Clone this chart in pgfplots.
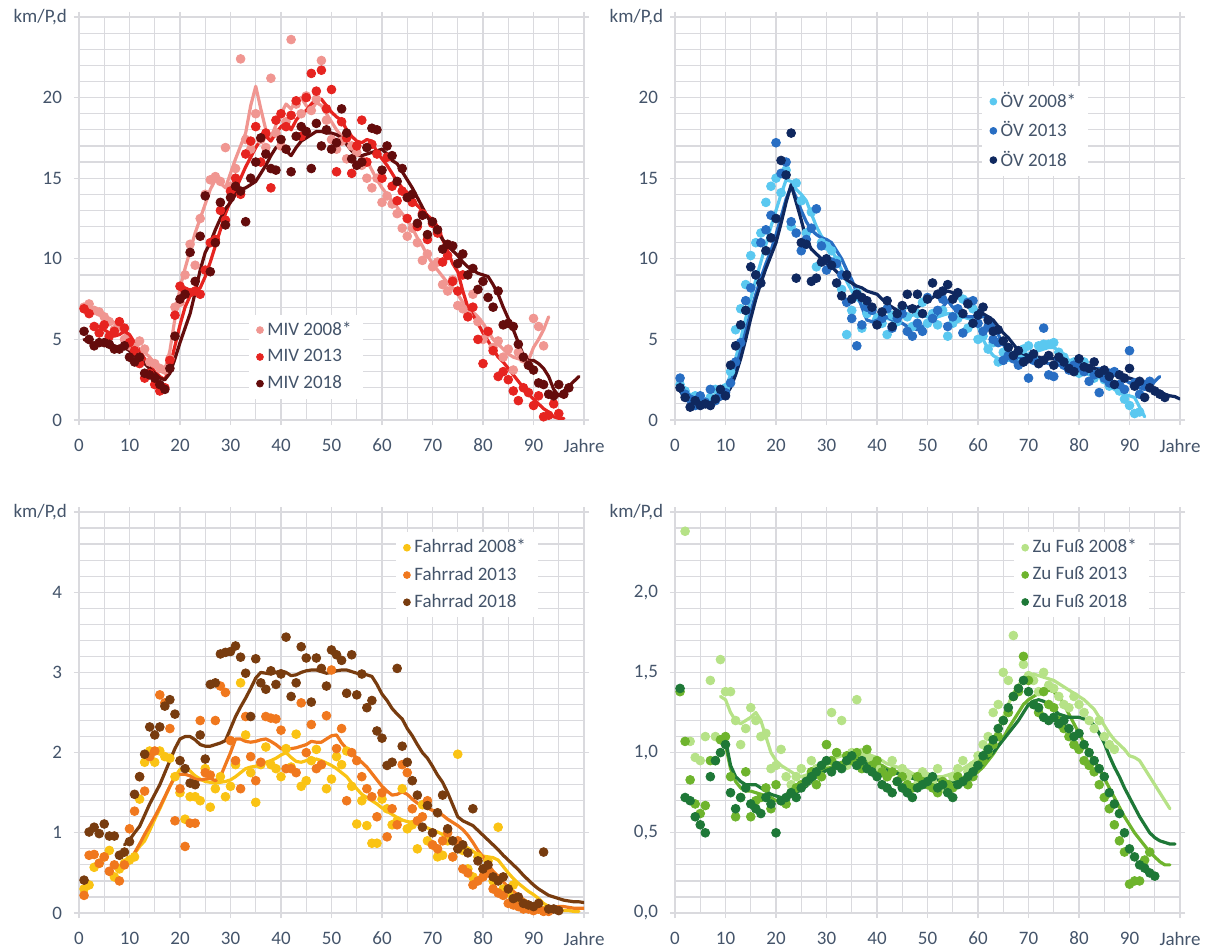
\documentclass[border=0pt]{standalone}
\usepackage{fontspec}
\setmainfont{Carlito}
\usepackage{pgfplots}
\pgfplotsset{compat=1.18}
\definecolor{txt}{RGB}{68,84,106}
\definecolor{gridc}{RGB}{218,218,222}
\definecolor{mA}{RGB}{240,150,145}
\definecolor{mB}{RGB}{230,36,32}
\definecolor{mC}{RGB}{100,12,12}
\definecolor{oA}{RGB}{90,200,240}
\definecolor{oB}{RGB}{40,110,195}
\definecolor{oC}{RGB}{15,40,95}
\definecolor{fA}{RGB}{250,195,20}
\definecolor{fB}{RGB}{240,120,30}
\definecolor{fC}{RGB}{120,60,15}
\definecolor{zA}{RGB}{182,226,135}
\definecolor{zB}{RGB}{110,180,45}
\definecolor{zC}{RGB}{30,120,55}
\pgfplotsset{
  pts/.style={only marks, mark=*, mark size=2.2pt},
  ln/.style={no marks, line width=1.6pt, line join=round, line cap=round, forget plot},
  panel/.style={
    scale only axis, anchor=south west, width=252.5pt, height=201.5pt,
    xmin=0, xmax=100, xtick={0,10,...,100},
    xticklabels={0,10,20,30,40,50,60,70,80,90,Jahre},
    minor x tick num=1,
    grid=both,
    major grid style={draw=gridc, line width=0.6pt},
    minor grid style={draw=gridc, line width=0.6pt},
    axis line style={draw=gridc, line width=0.6pt},
    tick align=outside, major tick length=2.5pt, minor tick length=0pt,
    tick style={draw=gridc, line width=0.6pt},
    tick label style={font=\fontsize{9.5}{10}\selectfont, text=txt},
    xticklabel style={inner sep=1pt, text depth=0pt, yshift=-5.8pt},
    yticklabel style={xshift=-2.5pt},
    legend cell align=left,
    legend style={draw=none, fill=white, font=\fontsize{9.5}{10}\selectfont, text=txt,
      row sep=1.5pt, inner xsep=4pt, inner ysep=1.5pt, anchor=north west},
    legend image code/.code={\draw[mark size=1.7pt,##1] plot coordinates {(0.1cm,0cm)};},
  }
}
\begin{document}
\begin{tikzpicture}
\useasboundingbox (0,0) rectangle (604pt,474.5pt);
% ---------------- MIV ----------------
\begin{axis}[panel, at={(39.5pt,264.5pt)}, ymin=0, ymax=25, ytick={0,5,...,25},
  yticklabels={0,5,10,15,20,{km/P,d\kern-2.5pt}}, minor y tick num=4,
  legend style={at={(0.335,0.262)}}]
\addplot[pts, color=mA] coordinates {(1,7.0)(2,7.2)(3,6.8)(4,6.7)(5,6.4)(6,6.1)(7,5.6)(8,5.8)(9,5.0)(10,4.6)(11,4.5)(12,4.9)(13,4.4)(14,3.6)(15,3.5)(16,3.2)(17,3.1)(18,3.8)(19,7.0)(20,7.3)(21,9.0)(22,10.9)(23,9.6)(24,12.5)(25,14.0)(26,14.9)(27,15.1)(28,14.8)(29,16.9)(30,14.5)(31,15.6)(32,22.4)(33,17.4)(34,16.8)(35,19.0)(36,17.4)(37,16.9)(38,21.2)(39,17.8)(40,17.0)(41,18.5)(42,23.6)(43,19.6)(44,19.0)(45,20.1)(46,19.2)(47,19.9)(48,22.3)(49,18.6)(50,17.4)(51,16.8)(52,17.3)(53,16.2)(54,17.0)(55,16.6)(56,15.8)(57,15.0)(58,14.4)(59,15.0)(60,13.5)(61,13.9)(62,13.4)(63,12.8)(64,11.9)(65,11.4)(66,11.9)(67,11.0)(68,9.9)(69,10.3)(70,9.5)(71,9.8)(72,8.4)(73,8.0)(74,8.7)(75,7.1)(76,6.9)(77,6.5)(78,7.8)(79,6.1)(80,5.0)(81,5.4)(82,4.5)(83,4.9)(84,3.9)(85,4.4)(86,3.1)(87,4.2)(88,3.8)(89,3.4)(90,6.3)(91,5.8)(92,4.6)};
\addlegendentry{MIV 2008*}
\addplot[pts, color=mB] coordinates {(1,6.9)(2,6.6)(3,5.8)(4,5.4)(5,5.9)(6,5.2)(7,5.5)(8,6.1)(9,5.7)(10,4.8)(11,4.3)(12,3.5)(13,2.6)(14,2.9)(15,2.2)(16,1.8)(17,2.0)(18,3.7)(19,6.5)(20,8.3)(21,8.0)(22,7.9)(23,8.0)(24,7.8)(25,9.3)(26,11.0)(27,11.2)(28,13.0)(29,12.4)(30,14.2)(31,15.0)(32,14.0)(33,16.5)(34,17.3)(35,18.2)(36,16.0)(37,17.8)(38,14.4)(39,18.6)(40,19.0)(41,18.2)(42,18.9)(43,19.8)(44,17.6)(45,20.0)(46,21.5)(47,20.4)(48,21.7)(49,19.3)(50,20.5)(51,15.4)(52,18.5)(53,17.5)(54,15.3)(55,17.0)(56,18.6)(57,16.0)(58,17.1)(59,16.5)(60,15.0)(61,16.3)(62,14.5)(63,13.6)(64,14.2)(65,12.5)(66,13.5)(67,12.0)(68,12.8)(69,11.2)(70,12.2)(71,11.6)(72,9.8)(73,10.2)(74,8.6)(75,8.0)(76,9.0)(77,6.4)(78,7.0)(79,5.0)(80,3.5)(81,5.5)(82,4.3)(83,2.7)(84,3.0)(85,2.5)(86,1.8)(87,1.2)(88,2.0)(89,1.7)(90,0.9)(91,1.5)(92,0.2)(93,0.3)(94,1.0)(95,0.4)};
\addlegendentry{MIV 2013}
\addplot[pts, color=mC] coordinates {(1,5.5)(2,5.0)(3,4.6)(4,4.8)(5,4.8)(6,4.7)(7,4.4)(8,4.4)(9,4.6)(10,3.9)(11,3.6)(12,3.9)(13,2.9)(14,2.8)(15,2.6)(16,2.2)(17,1.9)(18,3.2)(19,5.2)(20,7.5)(21,7.8)(22,10.4)(23,8.6)(24,11.4)(25,13.9)(26,9.2)(27,11.0)(28,13.5)(29,12.1)(30,13.8)(31,14.5)(32,14.2)(33,12.3)(34,15.0)(35,16.0)(36,17.5)(37,16.5)(38,15.6)(39,15.5)(40,17.4)(41,16.8)(42,15.4)(43,17.6)(44,18.2)(45,17.9)(46,15.6)(47,18.4)(48,17.0)(49,18.0)(50,16.8)(51,17.2)(52,19.3)(53,17.8)(54,16.2)(55,15.8)(56,16.0)(57,16.9)(58,18.1)(59,18.0)(60,15.5)(61,17.0)(62,16.4)(63,14.8)(64,15.6)(65,13.8)(66,14.0)(67,12.2)(68,12.7)(69,11.5)(70,12.3)(71,11.8)(72,10.6)(73,10.9)(74,10.8)(75,9.7)(76,10.3)(77,9.0)(78,9.4)(79,8.1)(80,8.6)(81,7.6)(82,7.0)(83,8.0)(84,5.9)(85,6.0)(86,5.8)(87,4.7)(88,3.9)(89,3.4)(90,3.1)(91,2.3)(92,2.2)(93,1.6)(94,1.5)(95,2.2)(96,1.6)(97,2.0)};
\addlegendentry{MIV 2018}
\addplot[ln, color=mA] coordinates {(1,6.9)(2,7.0)(3,6.8)(4,6.6)(5,6.5)(6,6.3)(7,6.0)(8,5.7)(9,5.4)(10,5.0)(11,4.7)(12,4.4)(13,4.2)(14,3.9)(15,3.5)(16,3.2)(17,3.1)(18,4.3)(19,6.3)(20,8.2)(21,9.4)(22,10.5)(23,11.6)(24,12.5)(25,13.4)(26,14.3)(27,14.9)(28,14.7)(29,14.4)(30,15.3)(31,16.2)(32,17.0)(33,17.8)(34,19.5)(35,20.7)(36,19.3)(37,18.0)(38,17.5)(39,18.3)(40,19.0)(41,19.6)(42,19.3)(43,19.8)(44,20.0)(45,19.5)(46,19.2)(47,19.7)(48,19.5)(49,19.0)(50,18.5)(51,18.0)(52,17.6)(53,17.1)(54,16.9)(55,16.6)(56,16.3)(57,16.1)(58,15.5)(59,14.9)(60,14.4)(61,14.0)(62,13.6)(63,13.2)(64,12.8)(65,12.4)(66,11.9)(67,11.3)(68,10.8)(69,10.2)(70,9.7)(71,9.3)(72,8.9)(73,8.5)(74,8.2)(75,7.8)(76,7.3)(77,6.9)(78,6.7)(79,6.4)(80,6.0)(81,5.5)(82,5.0)(83,4.7)(84,4.4)(85,4.1)(86,3.9)(87,3.8)(88,3.7)(89,3.7)(90,4.5)(91,5.0)(92,5.6)(93,6.4)};
\addplot[ln, color=mB] coordinates {(3,5.9)(4,5.8)(5,5.6)(6,5.4)(7,5.2)(8,5.3)(9,5.5)(10,5.3)(11,4.8)(12,4.3)(13,3.8)(14,3.4)(15,3.0)(16,2.7)(17,2.5)(18,3.3)(19,4.6)(20,5.9)(21,7.0)(22,7.7)(23,8.0)(24,8.2)(25,8.9)(26,9.8)(27,10.8)(28,11.8)(29,12.8)(30,13.6)(31,14.3)(32,15.0)(33,15.7)(34,16.3)(35,16.9)(36,17.4)(37,17.6)(38,17.3)(39,17.8)(40,18.2)(41,18.4)(42,18.0)(43,18.6)(44,19.0)(45,19.2)(46,19.6)(47,19.9)(48,19.9)(49,19.5)(50,19.1)(51,18.8)(52,18.6)(53,18.0)(54,17.6)(55,17.3)(56,17.2)(57,17.4)(58,17.3)(59,16.6)(60,16.2)(61,15.8)(62,15.3)(63,14.8)(64,14.4)(65,14.1)(66,13.7)(67,13.3)(68,13.0)(69,12.7)(70,12.4)(71,12.0)(72,11.2)(73,10.5)(74,9.7)(75,9.2)(76,8.0)(77,7.0)(78,6.5)(79,6.0)(80,5.4)(81,4.9)(82,4.4)(83,3.9)(84,3.6)(85,3.2)(86,2.8)(87,2.4)(88,2.0)(89,1.6)(90,1.3)(91,1.0)(92,0.7)(93,0.5)(94,0.2)(95,0.1)(96,0.1)};
\addplot[ln, color=mC] coordinates {(1,5.0)(2,4.8)(3,4.7)(4,4.8)(5,4.8)(6,4.7)(7,4.6)(8,4.5)(9,4.5)(10,4.3)(11,4.0)(12,3.8)(13,3.5)(14,3.2)(15,2.9)(16,2.6)(17,2.5)(18,2.9)(19,3.8)(20,4.8)(21,5.7)(22,6.6)(23,7.9)(24,9.3)(25,10.4)(26,11.0)(27,11.8)(28,12.5)(29,13.1)(30,13.5)(31,14.0)(32,14.3)(33,14.4)(34,14.6)(35,14.8)(36,15.3)(37,15.8)(38,16.4)(39,16.9)(40,17.0)(41,16.7)(42,16.4)(43,16.9)(44,17.3)(45,17.5)(46,17.7)(47,17.9)(48,17.9)(49,17.8)(50,17.8)(51,17.7)(52,17.5)(53,17.1)(54,16.7)(55,16.4)(56,16.4)(57,16.5)(58,16.6)(59,16.7)(60,16.8)(61,16.5)(62,16.1)(63,15.9)(64,15.4)(65,14.9)(66,14.4)(67,13.8)(68,13.2)(69,12.6)(70,12.1)(71,11.7)(72,11.2)(73,10.8)(74,10.5)(75,10.2)(76,9.8)(77,9.5)(78,9.3)(79,9.1)(80,9.0)(81,8.9)(82,8.4)(83,7.8)(84,7.0)(85,6.3)(86,5.6)(87,4.8)(88,4.0)(89,3.7)(90,3.7)(91,3.5)(92,3.2)(93,2.7)(94,1.9)(95,1.5)(96,1.8)(97,2.1)(98,2.4)(99,2.7)};
\end{axis}
% ---------------- OEV ----------------
\begin{axis}[panel, at={(337.5pt,264.5pt)}, ymin=0, ymax=25, ytick={0,5,...,25},
  yticklabels={0,5,10,15,20,{km/P,d\kern-2.5pt}}, minor y tick num=4,
  legend style={at={(0.607,0.831)}}]
\addplot[pts, color=oA] coordinates {(1,2.2)(2,1.8)(3,1.4)(4,1.5)(5,1.2)(6,1.1)(7,1.4)(8,1.9)(9,1.6)(10,2.0)(11,3.0)(12,5.6)(13,6.9)(14,8.4)(15,10.2)(16,11.0)(17,11.6)(18,13.5)(19,14.5)(20,15.0)(21,14.1)(22,15.5)(23,12.0)(24,14.7)(25,13.6)(26,11.6)(27,12.9)(28,9.5)(29,11.0)(30,10.8)(31,10.5)(32,9.9)(33,8.1)(34,5.3)(35,6.8)(36,7.9)(37,5.7)(38,6.6)(39,6.9)(40,6.3)(41,6.0)(42,5.3)(43,6.5)(44,6.1)(45,7.0)(46,6.4)(47,5.8)(48,6.6)(49,7.3)(50,6.0)(51,6.6)(52,5.9)(53,6.8)(54,5.2)(55,6.0)(56,6.3)(57,7.5)(58,5.7)(59,6.9)(60,5.0)(61,5.2)(62,4.4)(63,4.8)(64,3.6)(65,4.2)(66,3.9)(67,4.0)(68,3.5)(69,4.4)(70,4.6)(71,3.8)(72,4.6)(73,4.7)(74,4.7)(75,4.8)(76,4.2)(77,3.9)(78,3.5)(79,3.6)(80,2.9)(81,3.6)(82,3.0)(83,2.6)(84,2.9)(85,2.5)(86,2.1)(87,2.2)(88,1.8)(89,1.3)(90,0.9)(91,0.4)(92,0.5)};
\addlegendentry{ÖV 2008*}
\addplot[pts, color=oB] coordinates {(1,2.6)(2,1.6)(3,1.3)(4,0.9)(5,1.5)(6,1.1)(7,1.9)(8,1.2)(9,1.5)(10,1.7)(11,2.3)(12,3.6)(13,4.8)(14,7.4)(15,8.2)(16,9.0)(17,11.0)(18,11.8)(19,12.7)(20,17.2)(21,15.3)(22,16.0)(23,12.3)(24,11.6)(25,10.5)(26,11.2)(27,11.9)(28,13.1)(29,10.8)(30,9.3)(31,9.8)(32,9.7)(33,9.0)(34,7.3)(35,6.3)(36,4.6)(37,5.9)(38,7.0)(39,6.8)(40,6.0)(41,6.3)(42,6.9)(43,5.7)(44,6.3)(45,6.6)(46,5.5)(47,5.2)(48,6.0)(49,5.5)(50,7.6)(51,6.3)(52,6.8)(53,7.5)(54,5.8)(55,6.4)(56,6.9)(57,5.4)(58,7.3)(59,7.4)(60,6.0)(61,5.5)(62,5.8)(63,5.0)(64,4.8)(65,3.7)(66,4.0)(67,3.8)(68,3.4)(69,3.6)(70,2.6)(71,3.7)(72,3.5)(73,5.7)(74,2.8)(75,2.7)(76,3.8)(77,3.4)(78,3.1)(79,3.4)(80,3.3)(81,3.0)(82,2.4)(83,2.8)(84,1.7)(85,2.6)(86,2.3)(87,3.0)(88,2.2)(89,1.9)(90,4.3)(91,2.3)(92,1.6)(93,2.2)(94,2.4)};
\addlegendentry{ÖV 2013}
\addplot[pts, color=oC] coordinates {(1,2.0)(2,1.4)(3,0.8)(4,1.2)(5,0.9)(6,1.0)(7,0.9)(8,1.3)(9,1.9)(10,1.5)(11,3.4)(12,4.6)(13,5.9)(14,6.8)(15,9.5)(16,9.0)(17,8.5)(18,10.5)(19,11.3)(20,12.5)(21,16.1)(22,15.2)(23,17.8)(24,8.8)(25,11.0)(26,10.9)(27,8.6)(28,8.8)(29,9.8)(30,10.0)(31,9.6)(32,8.5)(33,7.7)(34,9.0)(35,7.5)(36,7.8)(37,7.6)(38,7.4)(39,7.0)(40,5.9)(41,6.7)(42,7.4)(43,5.8)(44,6.6)(45,7.1)(46,7.8)(47,6.9)(48,7.8)(49,6.6)(50,7.5)(51,8.5)(52,7.8)(53,8.0)(54,8.4)(55,7.5)(56,7.9)(57,6.6)(58,7.2)(59,6.0)(60,6.5)(61,7.0)(62,6.2)(63,5.5)(64,5.6)(65,4.9)(66,4.5)(67,4.0)(68,4.3)(69,3.6)(70,3.8)(71,4.1)(72,3.5)(73,3.7)(74,4.0)(75,3.4)(76,3.9)(77,3.6)(78,3.2)(79,3.0)(80,3.8)(81,3.3)(82,3.2)(83,3.6)(84,2.9)(85,3.1)(86,2.7)(87,2.2)(88,2.8)(89,2.6)(90,3.2)(91,2.1)(92,2.4)(93,1.4)(94,2.0)(95,1.8)(96,1.6)(97,1.4)};
\addlegendentry{ÖV 2018}
\addplot[ln, color=oA] coordinates {(1,2.0)(2,1.6)(3,1.4)(4,1.3)(5,1.2)(6,1.2)(7,1.3)(8,1.4)(9,1.6)(10,2.0)(11,2.8)(12,3.8)(13,5.0)(14,6.3)(15,7.5)(16,8.7)(17,9.8)(18,10.9)(19,12.0)(20,13.0)(21,14.0)(22,14.9)(23,14.8)(24,14.3)(25,14.0)(26,13.6)(27,12.8)(28,12.0)(29,11.4)(30,11.0)(31,10.5)(32,10.0)(33,9.3)(34,8.6)(35,8.0)(36,7.5)(37,7.2)(38,6.9)(39,6.7)(40,6.5)(41,6.4)(42,6.3)(43,6.2)(44,6.3)(45,6.4)(46,6.4)(47,6.5)(48,6.6)(49,6.5)(50,6.4)(51,6.3)(52,6.4)(53,6.5)(54,6.6)(55,6.6)(56,6.5)(57,6.4)(58,6.3)(59,6.2)(60,5.8)(61,5.0)(62,4.4)(63,4.0)(64,3.8)(65,3.7)(66,3.7)(67,3.8)(68,3.9)(69,4.0)(70,4.1)(71,4.2)(72,4.3)(73,4.4)(74,4.5)(75,4.5)(76,4.3)(77,4.0)(78,3.7)(79,3.5)(80,3.3)(81,3.2)(82,3.0)(83,2.9)(84,2.7)(85,2.4)(86,2.1)(87,1.9)(88,1.7)(89,1.6)(90,1.5)(91,1.4)(92,0.8)(93,0.2)};
\addplot[ln, color=oB] coordinates {(1,2.2)(2,1.8)(3,1.5)(4,1.3)(5,1.2)(6,1.1)(7,1.1)(8,1.2)(9,1.4)(10,1.7)(11,2.3)(12,3.2)(13,4.3)(14,5.5)(15,6.7)(16,7.8)(17,8.8)(18,9.7)(19,10.5)(20,11.5)(21,12.6)(22,13.7)(23,14.5)(24,13.8)(25,13.0)(26,12.3)(27,11.8)(28,11.5)(29,11.3)(30,11.2)(31,11.0)(32,10.5)(33,10.0)(34,9.3)(35,8.7)(36,7.9)(37,7.0)(38,6.2)(39,6.1)(40,6.3)(41,6.5)(42,6.4)(43,6.2)(44,6.1)(45,6.0)(46,5.8)(47,5.7)(48,5.6)(49,5.8)(50,6.0)(51,6.2)(52,6.6)(53,7.0)(54,7.4)(55,7.0)(56,6.7)(57,6.5)(58,6.4)(59,6.4)(60,6.4)(61,6.4)(62,6.4)(63,5.9)(64,5.3)(65,4.7)(66,4.2)(67,3.9)(68,3.8)(69,3.8)(70,3.7)(71,3.7)(72,3.6)(73,3.6)(74,3.5)(75,3.5)(76,3.4)(77,3.3)(78,3.3)(79,3.4)(80,3.5)(81,3.4)(82,3.3)(83,3.2)(84,3.2)(85,3.1)(86,3.1)(87,2.9)(88,2.7)(89,2.5)(90,2.3)(91,2.2)(92,2.0)(93,1.9)(94,2.0)(95,2.4)(96,2.7)};
\addplot[ln, color=oC] coordinates {(1,1.8)(2,1.4)(3,1.1)(4,1.0)(5,1.0)(6,1.0)(7,1.0)(8,1.1)(9,1.3)(10,1.5)(11,2.0)(12,2.8)(13,3.8)(14,5.0)(15,6.3)(16,7.5)(17,8.5)(18,9.4)(19,10.2)(20,11.0)(21,12.2)(22,13.5)(23,14.6)(24,13.5)(25,12.4)(26,11.2)(27,10.6)(28,10.3)(29,10.0)(30,9.7)(31,9.5)(32,9.2)(33,8.9)(34,8.7)(35,8.5)(36,8.3)(37,8.2)(38,8.0)(39,7.9)(40,7.8)(41,7.5)(42,7.2)(43,7.0)(44,6.8)(45,6.9)(46,7.0)(47,7.0)(48,7.0)(49,7.2)(50,7.4)(51,7.6)(52,7.8)(53,7.9)(54,8.0)(55,7.9)(56,7.6)(57,7.4)(58,7.2)(59,7.0)(60,6.8)(61,6.6)(62,6.4)(63,6.2)(64,5.8)(65,5.4)(66,5.1)(67,4.7)(68,4.3)(69,4.1)(70,4.0)(71,3.9)(72,3.9)(73,3.8)(74,3.8)(75,3.8)(76,3.7)(77,3.6)(78,3.5)(79,3.5)(80,3.5)(81,3.4)(82,3.3)(83,3.2)(84,3.1)(85,3.0)(86,2.9)(87,2.8)(88,2.7)(89,2.6)(90,2.6)(91,2.5)(92,2.3)(93,2.1)(94,1.9)(95,1.8)(96,1.8)(97,1.6)(98,1.5)(99,1.45)(100,1.3)};
\end{axis}
% ---------------- Fahrrad ----------------
\begin{axis}[panel, at={(39.5pt,18pt)}, height=200.5pt, ymin=0, ymax=5, ytick={0,1,...,5},
  yticklabels={0,1,2,3,4,{km/P,d\kern-2.5pt}}, minor y tick num=4,
  legend style={at={(0.626,0.95)}}]
\addplot[pts, color=fA] coordinates {(1,0.3)(2,0.35)(3,0.57)(4,0.62)(5,0.70)(6,0.78)(7,0.45)(8,0.55)(9,0.62)(10,0.66)(11,0.70)(12,1.42)(13,1.88)(14,2.02)(15,1.88)(16,2.02)(17,1.95)(18,1.93)(19,1.70)(20,1.50)(21,1.17)(22,1.45)(23,1.45)(24,1.40)(25,1.80)(26,1.32)(27,1.55)(28,1.70)(29,1.45)(30,1.58)(31,1.85)(32,2.87)(33,2.22)(34,1.75)(35,1.38)(36,1.85)(37,2.07)(38,1.85)(39,1.80)(40,1.70)(41,2.05)(42,1.82)(43,2.23)(44,1.58)(45,1.65)(46,1.90)(47,2.04)(48,1.85)(49,1.55)(50,1.67)(51,1.95)(52,1.85)(53,2.02)(54,1.58)(55,1.11)(56,1.40)(57,1.09)(58,0.87)(59,0.87)(60,1.42)(61,1.30)(62,1.10)(63,1.15)(64,1.55)(65,1.05)(66,1.10)(67,0.80)(68,1.35)(69,0.90)(70,0.85)(71,0.70)(72,0.72)(73,0.90)(74,0.70)(75,1.98)(76,0.78)(77,0.55)(78,0.45)(79,0.70)(80,0.55)(81,0.65)(82,0.40)(83,1.07)(84,0.30)(85,0.25)(86,0.35)(87,0.15)(88,0.12)(89,0.08)(90,0.05)(91,0.05)(92,0.03)};
\addlegendentry{Fahrrad 2008*}
\addplot[pts, color=fB] coordinates {(1,0.22)(2,0.72)(3,0.73)(4,0.62)(5,0.70)(6,0.52)(7,0.60)(8,0.40)(9,0.60)(10,1.05)(11,1.27)(12,1.70)(13,1.52)(14,1.95)(15,2.02)(16,2.72)(17,2.62)(18,2.30)(19,1.15)(20,1.55)(21,0.83)(22,1.12)(23,1.12)(24,2.40)(25,1.75)(26,1.72)(27,2.40)(28,2.83)(29,2.75)(30,2.15)(31,1.90)(32,1.55)(33,2.45)(34,1.95)(35,1.65)(36,1.88)(37,2.45)(38,2.43)(39,2.42)(40,2.28)(41,1.80)(42,1.80)(43,1.75)(44,2.62)(45,2.00)(46,2.35)(47,1.80)(48,1.85)(49,2.46)(50,3.03)(51,2.05)(52,2.30)(53,1.40)(54,2.00)(55,1.90)(56,1.70)(57,1.55)(58,1.45)(59,1.20)(60,1.50)(61,0.95)(62,1.30)(63,1.10)(64,1.85)(65,1.75)(66,1.30)(67,1.15)(68,1.20)(69,1.40)(70,0.85)(71,0.80)(72,0.90)(73,1.00)(74,0.70)(75,0.90)(76,0.55)(77,0.50)(78,0.35)(79,0.40)(80,0.45)(81,0.50)(82,0.30)(83,0.25)(84,0.22)(85,0.12)(86,0.10)(87,0.08)(88,0.05)(89,0.05)(90,0.03)(91,0.05)(92,0.02)(93,0.02)};
\addlegendentry{Fahrrad 2013}
\addplot[pts, color=fC] coordinates {(1,0.41)(2,1.01)(3,1.07)(4,0.99)(5,1.11)(6,0.96)(7,0.96)(8,0.72)(9,0.76)(10,0.89)(11,1.48)(12,1.70)(13,1.98)(14,2.32)(15,2.22)(16,2.32)(17,2.58)(18,2.66)(19,2.48)(20,1.90)(21,1.80)(22,1.62)(23,1.60)(24,2.22)(25,1.92)(26,2.85)(27,2.87)(28,3.23)(29,3.25)(30,3.26)(31,3.33)(32,3.19)(33,2.99)(34,2.45)(35,3.17)(36,2.87)(37,2.79)(38,3.02)(39,2.85)(40,2.98)(41,3.44)(42,2.70)(43,2.87)(44,3.32)(45,3.18)(46,2.63)(47,3.18)(48,3.05)(49,2.83)(50,3.28)(51,3.22)(52,3.15)(53,2.74)(54,3.22)(55,2.72)(56,2.98)(57,2.56)(58,2.65)(59,2.27)(60,2.18)(61,1.84)(62,1.88)(63,3.05)(64,2.08)(65,1.88)(66,1.65)(67,1.47)(68,1.07)(69,1.34)(70,1.00)(71,1.25)(72,1.47)(73,1.05)(74,0.90)(75,0.80)(76,0.85)(77,0.75)(78,1.30)(79,0.65)(80,0.55)(81,0.60)(82,0.45)(83,0.40)(84,0.45)(85,0.30)(86,0.18)(87,0.20)(88,0.12)(89,0.10)(90,0.08)(91,0.12)(92,0.76)(93,0.05)(94,0.05)(95,0.03)};
\addlegendentry{Fahrrad 2018}
\addplot[ln, color=fA] coordinates {(9,0.6)(10,0.66)(11,0.74)(12,0.83)(13,0.9)(14,1.03)(15,1.17)(16,1.3)(17,1.44)(18,1.58)(19,1.7)(20,1.79)(21,1.82)(22,1.77)(23,1.71)(24,1.67)(25,1.64)(26,1.63)(27,1.62)(28,1.63)(29,1.64)(30,1.66)(31,1.7)(32,1.75)(33,1.8)(34,1.82)(35,1.83)(36,1.85)(37,1.88)(38,1.9)(39,1.93)(40,1.97)(41,2.0)(42,1.94)(43,1.89)(44,1.88)(45,1.9)(46,1.91)(47,1.92)(48,1.9)(49,1.87)(50,1.84)(51,1.8)(52,1.75)(53,1.7)(54,1.62)(55,1.55)(56,1.48)(57,1.44)(58,1.4)(59,1.36)(60,1.31)(61,1.27)(62,1.23)(63,1.19)(64,1.16)(65,1.14)(66,1.13)(67,1.11)(68,1.09)(69,1.06)(70,1.03)(71,1.01)(72,0.98)(73,0.95)(74,0.92)(75,0.89)(76,0.85)(77,0.81)(78,0.77)(79,0.73)(80,0.71)(81,0.7)(82,0.69)(83,0.66)(84,0.58)(85,0.5)(86,0.43)(87,0.37)(88,0.32)(89,0.27)(90,0.23)(91,0.18)(92,0.12)(93,0.08)(94,0.06)(95,0.04)(96,0.03)(97,0.03)(98,0.02)(99,0.02)};
\addplot[ln, color=fB] coordinates {(9,0.62)(10,0.66)(11,0.75)(12,0.86)(13,0.98)(14,1.09)(15,1.2)(16,1.32)(17,1.45)(18,1.58)(19,1.7)(20,1.73)(21,1.73)(22,1.71)(23,1.67)(24,1.66)(25,1.67)(26,1.68)(27,1.65)(28,1.7)(29,1.85)(30,2.0)(31,2.17)(32,2.17)(33,2.14)(34,2.13)(35,2.14)(36,2.16)(37,2.17)(38,2.14)(39,2.1)(40,2.05)(41,2.04)(42,2.05)(43,2.06)(44,2.08)(45,2.1)(46,2.14)(47,2.13)(48,2.13)(49,2.17)(50,2.21)(51,2.22)(52,2.12)(53,2.05)(54,2.0)(55,1.93)(56,1.88)(57,1.82)(58,1.74)(59,1.66)(60,1.58)(61,1.52)(62,1.47)(63,1.48)(64,1.51)(65,1.48)(66,1.42)(67,1.37)(68,1.34)(69,1.31)(70,1.28)(71,1.26)(72,1.22)(73,1.17)(74,1.13)(75,1.09)(76,1.04)(77,0.97)(78,0.88)(79,0.78)(80,0.7)(81,0.61)(82,0.52)(83,0.46)(84,0.39)(85,0.32)(86,0.27)(87,0.22)(88,0.17)(89,0.13)(90,0.1)(91,0.08)(92,0.06)(93,0.06)(94,0.07)(95,0.08)(96,0.08)(97,0.07)(98,0.06)(99,0.06)(100,0.06)};
\addplot[ln, color=fC] coordinates {(9,0.85)(10,0.91)(11,1.0)(12,1.08)(13,1.22)(14,1.36)(15,1.48)(16,1.6)(17,1.75)(18,1.9)(19,2.05)(20,2.17)(21,2.2)(22,2.2)(23,2.16)(24,2.1)(25,2.08)(26,2.08)(27,2.1)(28,2.12)(29,2.15)(30,2.3)(31,2.45)(32,2.57)(33,2.68)(34,2.8)(35,2.93)(36,3.0)(37,2.99)(38,2.98)(39,3.0)(40,3.02)(41,3.0)(42,2.96)(43,2.97)(44,3.0)(45,3.02)(46,3.03)(47,3.03)(48,3.01)(49,2.99)(50,3.0)(51,3.02)(52,3.03)(53,3.03)(54,3.01)(55,2.99)(56,2.98)(57,2.97)(58,2.95)(59,2.85)(60,2.73)(61,2.65)(62,2.55)(63,2.48)(64,2.42)(65,2.3)(66,2.21)(67,2.1)(68,2.0)(69,1.93)(70,1.83)(71,1.72)(72,1.63)(73,1.5)(74,1.35)(75,1.2)(76,1.15)(77,1.12)(78,1.09)(79,1.03)(80,0.97)(81,0.91)(82,0.85)(83,0.79)(84,0.72)(85,0.66)(86,0.6)(87,0.54)(88,0.47)(89,0.41)(90,0.35)(91,0.3)(92,0.26)(93,0.22)(94,0.2)(95,0.18)(96,0.16)(97,0.15)(98,0.14)(99,0.14)(100,0.13)};
\end{axis}
% ---------------- Zu Fuss ----------------
\begin{axis}[panel, at={(337.5pt,18pt)}, height=200.5pt, ymin=0, ymax=2.5, ytick={0,0.5,...,2.5},
  yticklabels={{0,0},{0,5},{1,0},{1,5},{2,0},{km/P,d\kern-2.5pt}}, minor y tick num=4,
  legend style={at={(0.67,0.95)}}]
\addplot[pts, color=zA] coordinates {(2,2.38)(3,1.07)(4,0.97)(5,0.95)(6,1.10)(7,1.45)(8,1.10)(9,1.58)(10,1.38)(11,1.38)(12,1.20)(13,1.05)(14,1.15)(15,1.28)(16,1.20)(17,1.10)(18,1.12)(19,0.90)(20,0.92)(21,1.02)(22,0.85)(23,0.80)(24,0.85)(25,0.90)(26,0.82)(27,0.95)(28,0.90)(29,0.85)(30,1.05)(31,1.25)(32,1.00)(33,1.20)(34,0.92)(35,1.00)(36,1.33)(37,1.00)(38,0.98)(39,0.95)(40,0.90)(41,0.88)(42,0.85)(43,0.95)(44,0.82)(45,0.90)(46,0.85)(47,0.78)(48,0.80)(49,0.88)(50,0.85)(51,0.82)(52,0.90)(53,0.78)(54,0.80)(55,0.85)(56,0.90)(57,0.95)(58,0.88)(59,0.92)(60,0.98)(61,1.05)(62,1.10)(63,1.25)(64,1.30)(65,1.50)(66,1.45)(67,1.73)(68,1.40)(69,1.55)(70,1.48)(71,1.45)(72,1.38)(73,1.50)(74,1.42)(75,1.40)(76,1.35)(77,1.30)(78,1.28)(79,1.35)(80,1.30)(81,1.25)(82,1.20)(83,1.15)(84,1.20)(85,1.10)(86,1.05)(87,1.02)};
\addlegendentry{Zu Fuß 2008*}
\addplot[pts, color=zB] coordinates {(1,1.38)(2,1.07)(3,0.83)(4,0.68)(5,0.62)(6,0.67)(7,0.95)(8,0.95)(9,1.08)(10,1.10)(11,0.85)(12,0.60)(13,0.72)(14,0.88)(15,0.60)(16,0.70)(17,0.72)(18,0.78)(19,0.65)(20,0.80)(21,0.70)(22,0.68)(23,0.75)(24,0.78)(25,0.80)(26,0.82)(27,0.88)(28,0.80)(29,0.85)(30,1.05)(31,0.95)(32,1.00)(33,0.92)(34,0.98)(35,0.95)(36,1.00)(37,0.90)(38,1.02)(39,0.92)(40,0.95)(41,0.88)(42,0.85)(43,0.88)(44,0.82)(45,0.85)(46,0.80)(47,0.78)(48,0.85)(49,0.82)(50,0.80)(51,0.78)(52,0.75)(53,0.82)(54,0.80)(55,0.78)(56,0.85)(57,0.82)(58,0.80)(59,0.85)(60,0.92)(61,0.95)(62,1.00)(63,1.05)(64,1.10)(65,1.20)(66,1.25)(67,1.35)(68,1.38)(69,1.60)(70,1.45)(71,1.30)(72,1.25)(73,1.38)(74,1.30)(75,1.28)(76,1.20)(77,1.15)(78,1.10)(79,1.05)(80,1.02)(81,0.95)(82,0.92)(83,0.88)(84,0.80)(85,0.72)(86,0.65)(87,0.55)(88,0.45)(89,0.38)(90,0.18)(91,0.20)(92,0.20)(93,0.33)(94,0.38)};
\addlegendentry{Zu Fuß 2013}
\addplot[pts, color=zC] coordinates {(1,1.40)(2,0.72)(3,0.70)(4,0.60)(5,0.55)(6,0.50)(7,0.85)(8,0.95)(9,1.00)(10,1.05)(11,0.75)(12,0.65)(13,0.72)(14,0.78)(15,0.68)(16,0.65)(17,0.62)(18,0.72)(19,0.68)(20,0.50)(21,0.70)(22,0.72)(23,0.75)(24,0.72)(25,0.78)(26,0.82)(27,0.85)(28,0.88)(29,0.92)(30,0.95)(31,0.88)(32,0.92)(33,0.90)(34,0.95)(35,0.98)(36,0.92)(37,0.95)(38,0.90)(39,0.88)(40,0.85)(41,0.80)(42,0.78)(43,0.75)(44,0.82)(45,0.78)(46,0.75)(47,0.72)(48,0.78)(49,0.80)(50,0.82)(51,0.85)(52,0.78)(53,0.80)(54,0.75)(55,0.72)(56,0.80)(57,0.82)(58,0.85)(59,0.88)(60,0.92)(61,0.98)(62,1.02)(63,1.08)(64,1.15)(65,1.20)(66,1.28)(67,1.35)(68,1.40)(69,1.45)(70,1.38)(71,1.30)(72,1.28)(73,1.22)(74,1.20)(75,1.22)(76,1.18)(77,1.20)(78,1.15)(79,1.10)(80,1.12)(81,1.05)(82,1.00)(83,0.95)(84,0.90)(85,0.85)(86,0.75)(87,0.68)(88,0.62)(89,0.50)(90,0.40)(91,0.35)(92,0.30)(93,0.28)(94,0.25)(95,0.23)};
\addlegendentry{Zu Fuß 2018}
\addplot[ln, color=zA] coordinates {(9,1.35)(10,1.33)(11,1.25)(12,1.2)(13,1.18)(14,1.2)(15,1.22)(16,1.25)(17,1.2)(18,1.1)(19,1.0)(20,0.95)(21,0.92)(22,0.9)(23,0.88)(24,0.86)(25,0.85)(26,0.86)(27,0.87)(28,0.88)(29,0.9)(30,0.92)(31,0.95)(32,0.97)(33,0.98)(34,0.99)(35,1.0)(36,1.01)(37,1.0)(38,0.99)(39,0.98)(40,0.97)(41,0.95)(42,0.93)(43,0.92)(44,0.91)(45,0.9)(46,0.89)(47,0.87)(48,0.86)(49,0.86)(50,0.85)(51,0.85)(52,0.85)(53,0.85)(54,0.86)(55,0.87)(56,0.88)(57,0.9)(58,0.92)(59,0.94)(60,0.97)(61,1.0)(62,1.04)(63,1.08)(64,1.15)(65,1.22)(66,1.3)(67,1.37)(68,1.42)(69,1.46)(70,1.48)(71,1.49)(72,1.48)(73,1.47)(74,1.46)(75,1.45)(76,1.43)(77,1.41)(78,1.39)(79,1.37)(80,1.35)(81,1.33)(82,1.3)(83,1.27)(84,1.22)(85,1.17)(86,1.12)(87,1.08)(88,1.05)(89,1.02)(90,0.98)(91,0.97)(92,0.95)(93,0.9)(94,0.85)(95,0.8)(96,0.75)(97,0.7)(98,0.65)};
\addplot[ln, color=zB] coordinates {(9,1.1)(10,1.05)(11,0.9)(12,0.82)(13,0.78)(14,0.76)(15,0.76)(16,0.75)(17,0.74)(18,0.73)(19,0.72)(20,0.7)(21,0.7)(22,0.72)(23,0.74)(24,0.76)(25,0.78)(26,0.8)(27,0.83)(28,0.86)(29,0.88)(30,0.9)(31,0.91)(32,0.92)(33,0.93)(34,0.95)(35,0.96)(36,0.97)(37,0.96)(38,0.95)(39,0.94)(40,0.93)(41,0.92)(42,0.9)(43,0.89)(44,0.88)(45,0.87)(46,0.86)(47,0.85)(48,0.84)(49,0.83)(50,0.82)(51,0.81)(52,0.8)(53,0.8)(54,0.8)(55,0.8)(56,0.81)(57,0.82)(58,0.84)(59,0.86)(60,0.88)(61,0.91)(62,0.95)(63,0.99)(64,1.04)(65,1.09)(66,1.15)(67,1.2)(68,1.25)(69,1.3)(70,1.33)(71,1.35)(72,1.37)(73,1.38)(74,1.39)(75,1.38)(76,1.35)(77,1.3)(78,1.24)(79,1.18)(80,1.12)(81,1.06)(82,1.0)(83,0.95)(84,0.9)(85,0.84)(86,0.78)(87,0.72)(88,0.66)(89,0.6)(90,0.55)(91,0.5)(92,0.46)(93,0.42)(94,0.38)(95,0.35)(96,0.32)(97,0.3)(98,0.3)};
\addplot[ln, color=zC] coordinates {(10,1.08)(11,0.92)(12,0.85)(13,0.82)(14,0.8)(15,0.8)(16,0.8)(17,0.78)(18,0.76)(19,0.74)(20,0.73)(21,0.72)(22,0.72)(23,0.73)(24,0.75)(25,0.77)(26,0.79)(27,0.82)(28,0.85)(29,0.87)(30,0.89)(31,0.9)(32,0.92)(33,0.93)(34,0.94)(35,0.95)(36,0.95)(37,0.94)(38,0.93)(39,0.92)(40,0.91)(41,0.9)(42,0.89)(43,0.88)(44,0.87)(45,0.86)(46,0.85)(47,0.84)(48,0.83)(49,0.83)(50,0.83)(51,0.83)(52,0.83)(53,0.82)(54,0.82)(55,0.82)(56,0.82)(57,0.83)(58,0.85)(59,0.87)(60,0.9)(61,0.93)(62,0.97)(63,1.0)(64,1.04)(65,1.08)(66,1.12)(67,1.16)(68,1.2)(69,1.25)(70,1.3)(71,1.32)(72,1.33)(73,1.32)(74,1.3)(75,1.27)(76,1.24)(77,1.23)(78,1.22)(79,1.22)(80,1.22)(81,1.21)(82,1.2)(83,1.17)(84,1.12)(85,1.06)(86,0.98)(87,0.91)(88,0.85)(89,0.78)(90,0.72)(91,0.66)(92,0.6)(93,0.55)(94,0.5)(95,0.47)(96,0.45)(97,0.44)(98,0.43)(99,0.43)};
\end{axis}
\end{tikzpicture}
\end{document}
